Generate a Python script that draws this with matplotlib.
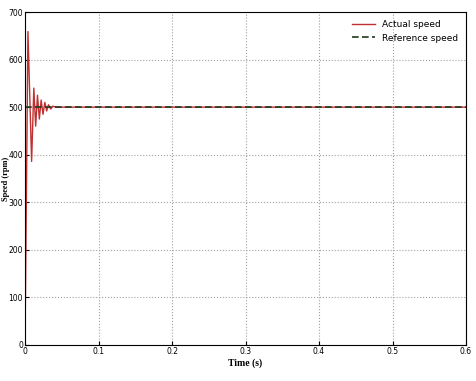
import matplotlib
matplotlib.use("Agg")
import matplotlib.pyplot as plt

t_actual = [0, 0.004, 0.009, 0.012, 0.0145, 0.017, 0.0195, 0.022, 0.0245,
            0.027, 0.0295, 0.032, 0.035, 0.038, 0.042, 0.6]
speed_actual = [0, 659, 386, 540, 460, 525, 475, 515, 485,
                510, 492, 505, 496, 502, 500, 500]

t_ref = [0, 0.6]
speed_ref = [500, 500]

xticks = [0, 0.1, 0.2, 0.3, 0.4, 0.5, 0.6]
xticklabels = ["0", "0.1", "0.2", "0.3", "0.4", "0.5", "0.6"]
yticks = [0, 100, 200, 300, 400, 500, 600, 700]

plt.rcParams['font.family'] = ['Liberation Sans Narrow', 'DejaVu Sans']

fig = plt.figure(figsize=(4.77, 3.81), dpi=100)
ax = fig.add_axes([0.0524, 0.0945, 0.9246, 0.874])

ax.plot(t_actual, speed_actual, color='#c03030', linewidth=1.0, label='Actual speed')
ax.plot(t_ref, speed_ref, color='#1f3a1f', linewidth=1.2, linestyle=(0, (4, 2)),
        label='Reference speed')

ax.set_xlim(0, 0.6)
ax.set_ylim(0, 700)
ax.set_xticks(xticks)
ax.set_xticklabels(xticklabels)
ax.set_yticks(yticks)
ax.tick_params(labelsize=5.5, direction='in', length=3, pad=1.5)
ax.grid(True, linestyle=':', color='#a0a0a0', linewidth=0.8)

ax.set_xlabel('Time (s)', family=['Liberation Serif', 'DejaVu Serif'],
              fontweight='bold', fontsize=7, labelpad=2)
ax.set_ylabel('Speed (rpm)', family=['Liberation Serif', 'DejaVu Serif'],
              fontweight='bold', fontsize=6)
ax.yaxis.set_label_coords(-0.033, 0.5)

leg = ax.legend(loc='upper right', fontsize=6.5, frameon=False, handlelength=2.5)

fig.savefig('out.png', dpi=100)
